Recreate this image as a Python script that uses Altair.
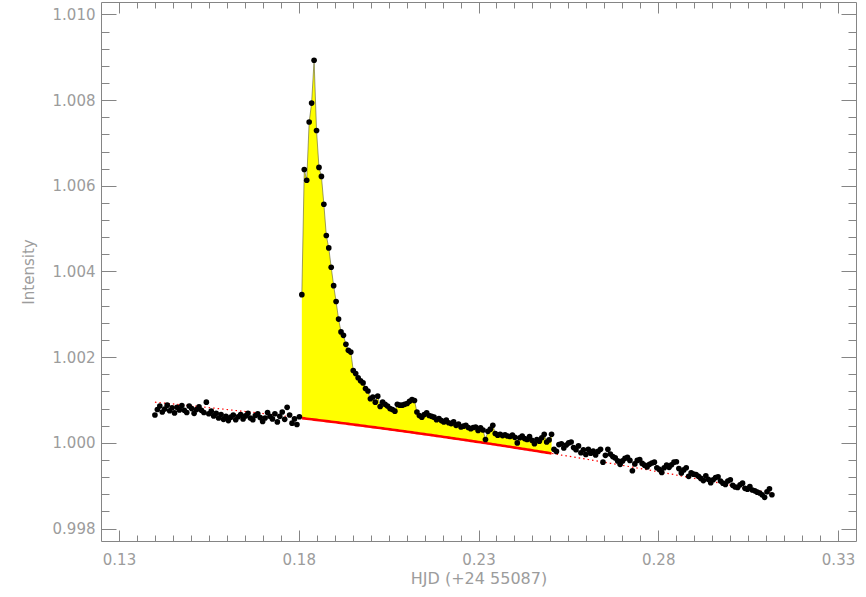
import altair as alt
import numpy as np
import pandas as pd

# ---------------- data ----------------
PRE_T = [0.14000, 0.14068, 0.14136, 0.14204, 0.14272, 0.14341, 0.14409, 0.14477, 0.14545, 0.14613,
         0.14681, 0.14749, 0.14817, 0.14885, 0.14953, 0.15022, 0.15090, 0.15158, 0.15226, 0.15294,
         0.15362, 0.15430, 0.15498, 0.15566, 0.15634, 0.15703, 0.15771, 0.15839, 0.15907, 0.15975,
         0.16043, 0.16111, 0.16179, 0.16247, 0.16315, 0.16384, 0.16452, 0.16520, 0.16588, 0.16656,
         0.16724, 0.16792, 0.16860, 0.16928, 0.16996, 0.17065, 0.17133, 0.17201, 0.17269, 0.17337,
         0.17405, 0.17473, 0.17541, 0.17609, 0.17677, 0.17746, 0.17814, 0.17882, 0.17950, 0.18018]
PRE_I = [1.00065, 1.00078, 1.00086, 1.00072, 1.00079, 1.00088, 1.00075, 1.00082, 1.00070, 1.00083,
         1.00077, 1.00087, 1.00076, 1.00071, 1.00086, 1.00080, 1.00069, 1.00078, 1.00084, 1.00076,
         1.00071, 1.00095, 1.00068, 1.00074, 1.00063, 1.00069, 1.00058, 1.00066, 1.00055, 1.00062,
         1.00052, 1.00060, 1.00065, 1.00054, 1.00061, 1.00066, 1.00056, 1.00063, 1.00069, 1.00058,
         1.00054, 1.00064, 1.00068, 1.00059, 1.00050, 1.00058, 1.00071, 1.00062, 1.00056, 1.00068,
         1.00049, 1.00062, 1.00072, 1.00055, 1.00083, 1.00065, 1.00046, 1.00056, 1.00043, 1.00061]

FLARE_T = [0.18086, 0.18154, 0.18222, 0.18290, 0.18358, 0.18427, 0.18495, 0.18563, 0.18631, 0.18699,
           0.18767, 0.18835, 0.18903, 0.18971, 0.19039, 0.19108, 0.19176, 0.19244, 0.19312, 0.19380,
           0.19448, 0.19516, 0.19584, 0.19652, 0.19720, 0.19789, 0.19857, 0.19925, 0.19993, 0.20061,
           0.20129, 0.20197, 0.20265, 0.20333, 0.20401, 0.20470, 0.20538, 0.20606, 0.20674, 0.20742,
           0.20810, 0.20878, 0.20946, 0.21014, 0.21082, 0.21151, 0.21219, 0.21287, 0.21355, 0.21423,
           0.21491, 0.21559, 0.21627, 0.21695, 0.21763, 0.21832, 0.21900, 0.21968, 0.22036, 0.22104,
           0.22172, 0.22240, 0.22308, 0.22376, 0.22444, 0.22513, 0.22581, 0.22649, 0.22717, 0.22785,
           0.22853, 0.22921, 0.22989, 0.23057, 0.23125, 0.23194, 0.23262, 0.23330, 0.23398, 0.23466,
           0.23534, 0.23602, 0.23670, 0.23738, 0.23806, 0.23875, 0.23943, 0.24011, 0.24079, 0.24147,
           0.24215, 0.24283, 0.24351, 0.24419, 0.24487, 0.24556, 0.24624, 0.24692, 0.24760, 0.24828,
           0.24896, 0.24964, 0.25032]
FLARE_I = [1.00346, 1.00638, 1.00613, 1.00749, 1.00793, 1.00893, 1.00729, 1.00643, 1.00622, 1.00557,
           1.00484, 1.00455, 1.00410, 1.00367, 1.00330, 1.00289, 1.00259, 1.00251, 1.00230, 1.00216,
           1.00212, 1.00169, 1.00162, 1.00152, 1.00145, 1.00140, 1.00127, 1.00121, 1.00103, 1.00107,
           1.00095, 1.00109, 1.00085, 1.00095, 1.00090, 1.00086, 1.00080, 1.00078, 1.00074, 1.00090,
           1.00088, 1.00088, 1.00090, 1.00092, 1.00097, 1.00101, 1.00099, 1.00072, 1.00064, 1.00060,
           1.00066, 1.00070, 1.00064, 1.00062, 1.00060, 1.00054, 1.00057, 1.00052, 1.00049, 1.00053,
           1.00047, 1.00045, 1.00049, 1.00041, 1.00044, 1.00037, 1.00039, 1.00041, 1.00036, 1.00033,
           1.00036, 1.00037, 1.00029, 1.00035, 1.00030, 1.00008, 1.00027, 1.00032, 1.00041, 1.00022,
           1.00018, 1.00020, 1.00017, 1.00019, 1.00016, 1.00015, 1.00018, 1.00013, 1.00000, 1.00012,
           1.00016, 1.00010, 1.00008, 1.00015, 1.00006, 0.99998, 1.00008, 1.00004, 1.00012, 1.00020,
           1.00002, 1.00007, 1.00020]

POST_T = [0.25100, 0.25168, 0.25237, 0.25305, 0.25373, 0.25441, 0.25509, 0.25577, 0.25645, 0.25713,
          0.25781, 0.25849, 0.25918, 0.25986, 0.26054, 0.26122, 0.26190, 0.26258, 0.26326, 0.26394,
          0.26462, 0.26530, 0.26599, 0.26667, 0.26735, 0.26803, 0.26871, 0.26939, 0.27007, 0.27075,
          0.27143, 0.27211, 0.27280, 0.27348, 0.27416, 0.27484, 0.27552, 0.27620, 0.27688, 0.27756,
          0.27824, 0.27892, 0.27961, 0.28029, 0.28097, 0.28165, 0.28233, 0.28301, 0.28369, 0.28437,
          0.28505, 0.28573, 0.28642, 0.28710, 0.28778, 0.28846, 0.28914, 0.28982, 0.29050, 0.29118,
          0.29186, 0.29254, 0.29323, 0.29391, 0.29459, 0.29527, 0.29595, 0.29663, 0.29731, 0.29799,
          0.29867, 0.29935, 0.30004, 0.30072, 0.30140, 0.30208, 0.30276, 0.30344, 0.30412, 0.30480,
          0.30548, 0.30616, 0.30685, 0.30753, 0.30821, 0.30889, 0.30957, 0.31025, 0.31093, 0.31161]
POST_I = [0.99985, 0.99980, 0.99996, 0.99998, 0.99988, 0.99995, 1.00000, 1.00002, 0.99989, 0.99984,
          0.99993, 0.99977, 0.99984, 0.99973, 0.99985, 0.99976, 0.99981, 0.99972, 0.99980, 0.99985,
          0.99955, 0.99971, 0.99985, 0.99974, 0.99968, 0.99965, 0.99958, 0.99950, 0.99958, 0.99964,
          0.99966, 0.99959, 0.99935, 0.99951, 0.99959, 0.99961, 0.99952, 0.99948, 0.99944, 0.99950,
          0.99953, 0.99955, 0.99942, 0.99938, 0.99931, 0.99942, 0.99948, 0.99943, 0.99949, 0.99955,
          0.99956, 0.99940, 0.99930, 0.99937, 0.99942, 0.99922, 0.99930, 0.99927, 0.99926, 0.99922,
          0.99917, 0.99912, 0.99923, 0.99915, 0.99907, 0.99914, 0.99919, 0.99921, 0.99911, 0.99906,
          0.99903, 0.99911, 0.99914, 0.99901, 0.99897, 0.99896, 0.99902, 0.99906, 0.99894, 0.99892,
          0.99898, 0.99890, 0.99888, 0.99885, 0.99883, 0.99879, 0.99873, 0.99886, 0.99893, 0.99879]

# quiescent baseline (quadratic fit) read at three times
BASE_T = [0.14, 0.23, 0.31]
BASE_I = [1.00095, 1.00002, 0.99885]

X_MAJOR = [0.13, 0.18, 0.23, 0.28, 0.33]
Y_MAJOR = [0.998, 1.000, 1.002, 1.004, 1.006, 1.008, 1.010]
X_DOMAIN = [0.125, 0.335]
Y_DOMAIN = [0.99771, 1.01029]

X_MINOR = [round(0.125 + 0.005 * k, 3) for k in range(1, 42)]
X_MINOR = [v for v in X_MINOR if all(abs(v - m) > 1e-6 for m in X_MAJOR)]
Y_MINOR = [round(0.998 + 0.0004 * k, 4) for k in range(0, 31)]
Y_MINOR = [v for v in Y_MINOR if all(abs(v - m) > 1e-7 for m in Y_MAJOR)]

# ---------------- frames ----------------
coef = np.polyfit(BASE_T, BASE_I, 2)
all_t = PRE_T + FLARE_T + POST_T
all_i = PRE_I + FLARE_I + POST_I
df_all = pd.DataFrame({"t": all_t, "I": all_i})
df_base = pd.DataFrame({"t": all_t, "base": np.polyval(coef, all_t)})
df_flare = pd.DataFrame({"t": FLARE_T, "I": FLARE_I, "base": np.polyval(coef, FLARE_T)})

W, H = 755, 539
GRAY = "#858585"
LBL = "#9c9c9c"
FONT = "DejaVu Sans"

xs = alt.Scale(domain=X_DOMAIN, nice=False, zero=False)
ys = alt.Scale(domain=Y_DOMAIN, nice=False, zero=False)


def tick_axis(orient, values, size, offset):
    return alt.Axis(orient=orient, values=values, tickSize=size, offset=offset,
                    labels=False, domain=False, grid=False, ticks=True,
                    tickColor=GRAY, tickWidth=1, title=None)


x_lab = alt.Axis(orient="bottom", values=X_MAJOR, format=".2f", ticks=False, domain=False,
                 grid=False, labelFont=FONT, labelFontSize=15, labelColor=LBL,
                 labelPadding=11, labelOverlap=False, labelFlush=False,
                 title="HJD (+24 55087)", titleFont=FONT, titleFontSize=16,
                 titleFontWeight="normal", titleColor=LBL, titleY=37,
                 titleBaseline="middle")
y_lab = alt.Axis(orient="left", values=Y_MAJOR, format=".3f", ticks=False, domain=False,
                 grid=False, labelFont=FONT, labelFontSize=15, labelColor=LBL,
                 labelPadding=6, labelOverlap=False, labelFlush=False,
                 title="Intensity", titleFont=FONT, titleFontSize=15,
                 titleFontWeight="normal", titleColor=LBL, titleX=-73, titleY=H / 2,
                 titleAngle=270, titleAlign="center", titleBaseline="middle")

area = alt.Chart(df_flare).mark_area(color="#ffff00", opacity=1).encode(
    x=alt.X("t:Q", scale=xs, axis=x_lab),
    y=alt.Y("I:Q", scale=ys, axis=y_lab),
    y2="base:Q",
)
dotted = alt.Chart(df_base).mark_line(color="#ff0000", strokeWidth=1.2,
                                      strokeDash=[1.5, 3]).encode(
    x=alt.X("t:Q", scale=xs, axis=tick_axis("top", X_MAJOR, 11, -H)),
    y=alt.Y("base:Q", scale=ys, axis=tick_axis("right", Y_MAJOR, 15, -W)),
)
solid = alt.Chart(df_flare).mark_line(color="#ff0000", strokeWidth=2.6).encode(
    x=alt.X("t:Q", scale=xs, axis=tick_axis("top", X_MINOR, 6, -H)),
    y=alt.Y("base:Q", scale=ys, axis=tick_axis("right", Y_MINOR, 8, -W)),
)
edge = alt.Chart(df_flare).mark_line(color="#5a5a3a", strokeWidth=0.6).encode(
    x=alt.X("t:Q", scale=xs, axis=tick_axis("bottom", X_MAJOR, 11, -H)),
    y=alt.Y("I:Q", scale=ys, axis=tick_axis("left", Y_MAJOR, 15, -W)),
)
points = alt.Chart(df_all).mark_circle(size=32, color="#000000", opacity=1).encode(
    x=alt.X("t:Q", scale=xs, axis=tick_axis("bottom", X_MINOR, 6, -H)),
    y=alt.Y("I:Q", scale=ys, axis=tick_axis("left", Y_MINOR, 8, -W)),
)

chart = alt.layer(area, dotted, solid, edge, points).resolve_axis(
    x="independent", y="independent"
).properties(
    width=W, height=H,
    padding={"left": 101, "top": 2, "right": 10, "bottom": 56},
    autosize=alt.AutoSizeParams(type="none"),
    background="white",
).configure_view(stroke=GRAY, strokeWidth=1)

chart.save("out.html", embed_options={"renderer": "svg", "actions": False})
